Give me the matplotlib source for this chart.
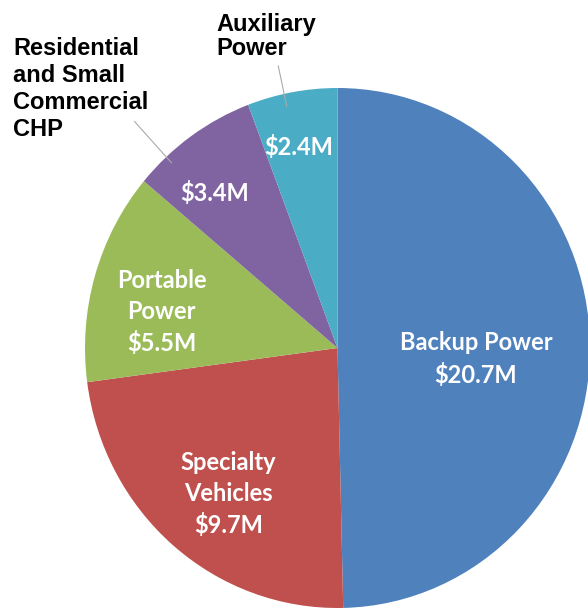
import numpy as np
import matplotlib
matplotlib.use("Agg")
import matplotlib.pyplot as plt

# 数据
categories = ["Backup Power", "Specialty\nVehicles", "Portable\nPower",
              "Residential\nand Small\nCommercial\nCHP", "Auxiliary\nPower"]
values = [20.7, 9.7, 5.5, 3.4, 2.4]
inner_labels = ["Backup Power\n$20.7M", "Specialty\nVehicles\n$9.7M",
                "Portable\nPower\n$5.5M", "$3.4M", "$2.4M"]
colors = ["#4F81BD", "#C0504D", "#9BBB59", "#8064A2", "#4BACC6"]
label_dist = [0.55, 0.71, 0.71, 0.77, 0.79]
label_nudge = [-5, 3, 5, 4, 1]  # 角度微调

W, H = 588, 608
fig = plt.figure(figsize=(W / 100, H / 100), dpi=100)
ax = fig.add_axes([85 / W, 0, 505 / W, 520 / H])

wedges, _ = ax.pie(values, colors=colors, startangle=90, counterclock=False,
                   wedgeprops=dict(linewidth=0))
ax.set_aspect("auto")
ax.set_xlim(-1, 1)
ax.set_ylim(-1, 1)
ax.axis("off")

# 扇区内标签
for w, txt, d, nd in zip(wedges, inner_labels, label_dist, label_nudge):
    ang = np.deg2rad((w.theta1 + w.theta2) / 2 + nd)
    ax.text(d * np.cos(ang), d * np.sin(ang), txt, ha="center", va="center",
            color="white", fontsize=17, fontweight="bold", family="Lato",
            linespacing=1.42)

# 引线 (角度, 起点半径, 终点半径)
leaders = [(132.7, 0.97, 1.185), (102.2, 0.95, 1.11)]
for a, r0, r1 in leaders:
    t = np.deg2rad(a)
    ax.plot([r0 * np.cos(t), r1 * np.cos(t)], [r0 * np.sin(t), r1 * np.sin(t)],
            color="#aaaaaa", lw=0.8, clip_on=False)

fig.text(216 / W, 1 - 13 / H, categories[4], ha="left", va="top",
         fontsize=17, fontweight="bold", family="Liberation Sans",
         linespacing=1.08)
fig.text(13 / W, 1 - 37 / H, categories[3], ha="left", va="top",
         fontsize=17, fontweight="bold", family="Liberation Sans",
         linespacing=1.22)

fig.savefig("out.png", dpi=100)
